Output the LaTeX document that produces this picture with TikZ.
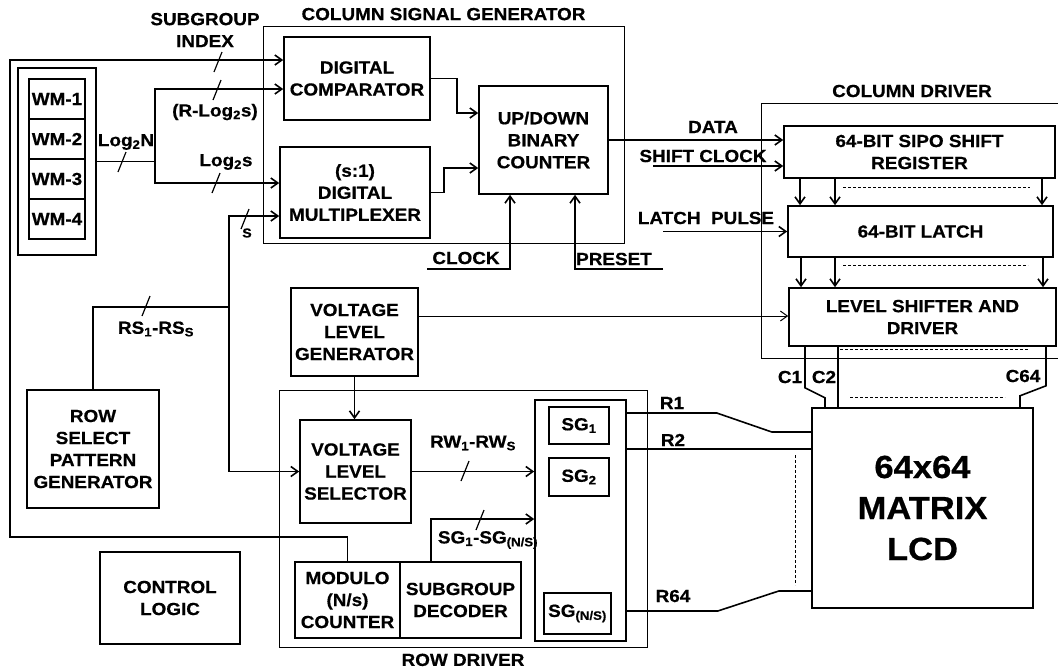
\documentclass[tikz,border=0pt]{standalone}
\usepackage{fontspec}
\setmainfont{Liberation Sans}[FakeStretch=1.08, BoldFeatures={FakeBold=0.6}]
\usetikzlibrary{positioning,arrows.meta,calc}

\newcommand{\busmark}[2]{\draw[busslash] ({#1+4},{#2-10}) -- ({#1-4},{#2+10});}

\begin{document}
\begin{tikzpicture}[x=1pt, y=-1pt,
  font=\fontsize{17.5}{22}\selectfont\bfseries,
  blk/.style={draw, line width=1.6pt, inner sep=0pt, align=center},
  grp/.style={draw, line width=1pt, inner sep=0pt},
  cell/.style={draw, line width=1.2pt, inner sep=0pt, align=center},
  lbl/.style={inner sep=0pt, align=center},
  wire/.style={line width=1.6pt},
  arr/.style={wire, -{Straight Barb[length=7pt,width=10pt]}},
  dots/.style={line width=0.8pt, dash pattern=on 2.5pt off 2.5pt},
  busslash/.style={line width=1.2pt}]
\useasboundingbox (0,0) rectangle (1058,670);

% column signal generator
\node[grp, minimum width=361pt, minimum height=217pt] (csg) at (443.5,134.5) {};
\node[lbl, above=5pt of csg] (csgl) {COLUMN SIGNAL GENERATOR};
\node[blk, minimum width=146pt, minimum height=83pt] (cmp) at (357,78.5) {DIGITAL\\COMPARATOR};
\node[blk, minimum width=150pt, minimum height=91pt] (mux) at (355,192.5) {(s:1)\\DIGITAL\\MULTIPLEXER};
\node[blk, minimum width=129pt, minimum height=108pt] (cnt) at (543.5,140) {UP/DOWN\\BINARY\\COUNTER};

% word memories
\node[blk, minimum width=78pt, minimum height=187pt] (wm) at (57,161.5) {};
\foreach \i/\y in {1/99,2/139,3/179,4/219}
  \node[cell, minimum width=56pt, minimum height=40pt] (wm\i) at (57,\y) {WM-\i};

% column driver
\draw[grp] (1058,103) -- (761,103) -- (761,358) -- (1058,358);
\node[lbl] (cdl) at (912,91) {COLUMN DRIVER};
\node[blk, minimum width=271pt, minimum height=52pt] (sipo) at (919.5,152) {64-BIT SIPO SHIFT\\REGISTER};
\node[blk, minimum width=265pt, minimum height=51pt] (latch) at (920.5,231.5) {64-BIT LATCH};
\node[blk, minimum width=267pt, minimum height=58pt] (lsd) at (922.5,317) {LEVEL SHIFTER AND\\DRIVER};

% row side
\node[blk, minimum width=132pt, minimum height=118pt] (rsp) at (93,449) {ROW\\SELECT\\PATTERN\\GENERATOR};
\node[blk, minimum width=140pt, minimum height=92pt] (ctl) at (170,598) {CONTROL\\LOGIC};
\node[cell, minimum width=127pt, minimum height=88pt] (vlg) at (354.5,332) {VOLTAGE\\LEVEL\\GENERATOR};
\node[grp, minimum width=368pt, minimum height=257pt] (rdv) at (463,518.5) {};
\node[lbl, below=6pt of rdv] (rdvl) {ROW DRIVER};
\node[blk, minimum width=111pt, minimum height=103pt] (vls) at (355.5,471.5) {VOLTAGE\\LEVEL\\SELECTOR};
\node[blk, minimum width=105pt, minimum height=76pt] (mod) at (347.5,600) {MODULO\\(N/s)\\COUNTER};
\node[blk, minimum width=121pt, minimum height=76pt] (sgd) at (460.5,600) {SUBGROUP\\DECODER};
\node[blk, minimum width=91pt, minimum height=241pt] (sgc) at (580.5,520.5) {};
\node[cell, minimum width=60pt, minimum height=37pt] (sg1) at (579,425.5) {SG\textsubscript{1}};
\node[cell, minimum width=60pt, minimum height=38pt] (sg2) at (579,477) {SG\textsubscript{2}};
\node[cell, minimum width=67pt, minimum height=41pt] (sgn) at (577.5,613.5) {SG\textsubscript{(N/S)}};
\node[blk, minimum width=221pt, minimum height=200pt, font=\fontsize{32}{41}\selectfont\bfseries] (lcd) at (922.5,508) {64x64\\MATRIX\\LCD};

% labels
\node[lbl] (sgi) at (205,30) {SUBGROUP\\INDEX};
\node[lbl] (rl) at (215,112) {(R-Log\textsubscript{2}s)};
\node[lbl] (lnl) at (126,142) {Log\textsubscript{2}N};
\node[lbl] (lsl) at (226,162) {Log\textsubscript{2}s};
\node[lbl, font=\fontsize{13}{15}\selectfont\bfseries] (sl) at (247,233) {S};
\node[lbl] (rsl) at (156,329) {RS\textsubscript{1}-RS\textsubscript{S}};
\node[lbl] (datal) at (713,127) {DATA};
\node[lbl] (shcl) at (703,156) {SHIFT CLOCK};
\node[lbl] (ltpl) at (706,218) {LATCH\ \ PULSE};
\node[lbl] (clkl) at (466,258) {CLOCK};
\node[lbl] (prel) at (614,259) {PRESET};
\node[lbl] (c1l) at (790,377) {C1};
\node[lbl] (c2l) at (824,377) {C2};
\node[lbl] (c64l) at (1023,376) {C64};
\node[lbl] (r1l) at (672,403) {R1};
\node[lbl] (r2l) at (673,440) {R2};
\node[lbl] (r64l) at (673,596) {R64};
\node[lbl] (rwl) at (473,443) {RW\textsubscript{1}-RW\textsubscript{S}};
\node[lbl] (sgl) at (488,540) {SG\textsubscript{1}-SG\textsubscript{(N/S)}};

% free ends
\coordinate (lp) at (10,537);
\coordinate (split) at (155,161.5);
\coordinate (rsb) at (229,307);
\coordinate (shc) at (653,166);
\coordinate (ltp) at (663,231.5);
\coordinate (clk) at (427,269);
\coordinate (pre) at (663,269);

% connectors
\draw[arr] (mod.north) |- (lp) |- ([yshift=18.5pt]cmp.west);
\draw[wire] (wm.east) -- (split);
\draw[arr] (split) |- ([yshift=-10.5pt]cmp.west);
\draw[arr] (split) |- ([yshift=9.5pt]mux.west);
\draw[wire] (rsp.north) |- (rsb);
\draw[arr] (rsb) |- ([yshift=-23.5pt]mux.west);
\draw[arr] (rsb) |- (vls.west);
\draw[arr] (cmp.east) -- ++(26,0) |- ([yshift=27pt]cnt.west);
\draw[arr] (mux.east) -- ++(13,0) |- ([yshift=-28pt]cnt.west);
\draw[arr] (cnt.east) -- (cnt.east -| sipo.west);
\draw[arr] (shc) -- (shc -| sipo.west);
\draw[arr] (ltp) -- (ltp -| latch.west);
\draw[arr] (clk) -| ([xshift=-33.5pt]cnt.south);
\draw[arr] (pre) -| ([xshift=31.5pt]cnt.south);
\draw[arr, line width=1pt] ([yshift=16pt]vlg.east) -- ([yshift=16pt]vlg.east -| lsd.west);
\draw[arr] (vlg.south) -- (vlg.south |- vls.north);
\draw[arr] (vls.east) -- (vls.east -| sgc.west);
\draw[arr] ([xshift=-29.5pt]sgd.north) |- ([yshift=1.5pt]sgc.west);

\foreach \dx in {-119.5,-84.5,122.5}
  \draw[arr] ([xshift=\dx pt]sipo.south) -- ([xshift=\dx pt]sipo.south |- latch.north);
\foreach \dx in {-119.5,-85.5,122.5}
  \draw[arr] ([xshift=\dx pt]latch.south) -- ([xshift=\dx pt]latch.south |- lsd.north);

\draw[wire] ([xshift=-117.5pt]lsd.south) -- ++(0,41) -- ++(20,10) coordinate (c1e) -- (c1e |- lcd.north);
\draw[wire] ([xshift=-84.5pt]lsd.south) -- ([xshift=-84.5pt]lsd.south |- lcd.north);
\draw[wire] ([xshift=123.5pt]lsd.south) -- ++(0,39) -- ++(-26,10) coordinate (c64e) -- (c64e |- lcd.north);

\draw[wire] ([yshift=107.5pt]sgc.east) -- ++(90,0) -- ++(55,19) -- ([yshift=76pt]lcd.west);
\draw[wire] ([yshift=71.5pt]sgc.east) coordinate (r2s) -- (r2s -| lcd.west);
\draw[wire] ([yshift=-90.5pt]sgc.east) -- ++(91,0) -- ++(61,-20) -- ([yshift=-83pt]lcd.west);

\draw[dots] (843,187) -- (1030,187);
\draw[dots] (843,265) -- (1028,265);
\draw[dots] (840,349) -- (1028,349);
\draw[dots] (850,397) -- (1005,397);
\draw[dots] (795,455) -- (795,585);

% bus widths
\busmark{218}{62}
\busmark{217}{90}
\busmark{216}{183}
\busmark{245}{219}
\busmark{122}{162}
\busmark{146}{306}
\busmark{465}{471}
\busmark{480}{520}
\end{tikzpicture}
\end{document}
